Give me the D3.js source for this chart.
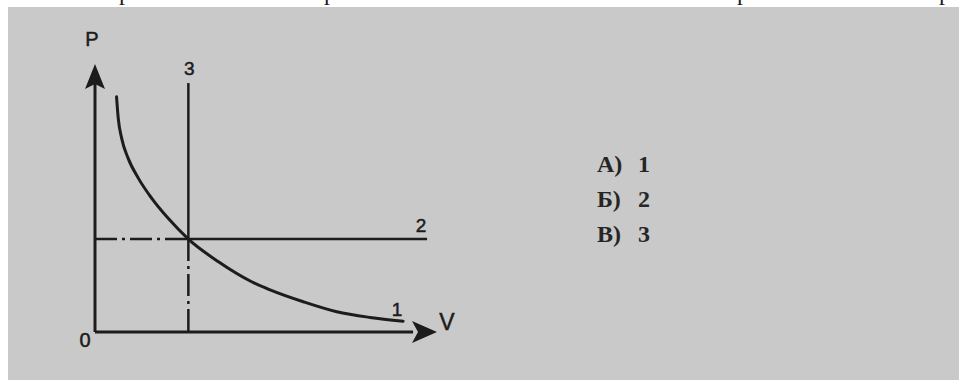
<html>
<head>
    <script src='https://cdnjs.cloudflare.com/ajax/libs/d3/7.8.5/d3.min.js'></script>
    <style>
        body { margin: 0; background: #fff; }
        svg { display: block; }
    </style>
</head>
<body>
</body>

<script>
    // isotherm 1 (V, P in axis units 0..100)
    var isothermV = [6.3, 6.8, 7.8, 9.7, 12.7, 16.6, 21.4, 27.3, 36.1, 45.8, 51.2, 60.9, 70.7, 80.4, 90.1];
    var isothermP = [87.1, 79.1, 71.7, 64.3, 56.9, 49.5, 42.1, 34.4, 26.0, 18.6, 15.6, 11.2, 7.5, 5.4, 4.0];

    // isobar 2 and isochore 3 meet the isotherm here
    var crossV = 27.3;
    var crossP = 34.4;
    var isobarEndV = 97.1;
    var isochoreTopP = 92.2;

    var answerLetters = ['А)', 'Б)', 'В)'];
    var answerValues = ['1', '2', '3'];
    var topFragments = [125, 330, 743, 945];

    var width = 959, height = 380;
    var ink = '#1c1c1c';

    var svg = d3.select('body').append('svg')
                               .attr('width', width).attr('height', height);

    // scanned page: white margin on top and left, grey paper
    svg.append('rect').attr('width', width).attr('height', height).style('fill', '#fff');
    svg.append('rect').attr('x', 8).attr('y', 7)
                      .attr('width', width - 8).attr('height', height - 7)
                      .style('fill', '#c9c9c9');

    // descenders of the line cut off above
    svg.selectAll('text.cut').data(topFragments).enter().append('text')
       .attr('class', 'cut')
       .attr('x', function (d) { return d; })
       .attr('y', 0)
       .attr('text-anchor', 'middle')
       .style('font-family', 'Liberation Serif')
       .style('font-size', '24px')
       .style('fill', ink)
       .text('р');

    var x = d3.scaleLinear().domain([0, 100]).range([95, 437]);
    var y = d3.scaleLinear().domain([0, 100]).range([332, 62]);

    var g = svg.append('g');

    function seg(v1, p1, v2, p2, w, dash) {
        var l = g.append('line')
                 .attr('x1', x(v1)).attr('y1', y(p1))
                 .attr('x2', x(v2)).attr('y2', y(p2))
                 .style('stroke', ink)
                 .style('stroke-width', w);
        if (dash) {
            l.style('stroke-dasharray', dash);
        }
        return l;
    }

    var dashDot = '22,5,3,5';

    // axes
    seg(0, 0, 0, 92, 3);
    seg(0, 0, 93, 0, 3);

    // arrowheads
    var ox = x(0), oy = y(0);
    var ptop = y(100) + 2;
    g.append('path')
     .attr('d', 'M' + ox + ',' + ptop + 'L' + (ox + 10) + ',' + (ptop + 25) +
                'L' + ox + ',' + (ptop + 20) + 'L' + (ox - 10) + ',' + (ptop + 25) + 'Z')
     .style('fill', ink);
    var vtip = x(100);
    g.append('path')
     .attr('d', 'M' + vtip + ',' + oy + 'L' + (vtip - 25) + ',' + (oy - 11) +
                'L' + (vtip - 19) + ',' + oy + 'L' + (vtip - 25) + ',' + (oy + 11) + 'Z')
     .style('fill', ink);

    // guides to the axes
    seg(0, crossP, crossV, crossP, 2.5, dashDot);
    seg(crossV, crossP, crossV, 0, 2.5, dashDot);

    // isobar 2, isochore 3
    seg(crossV, crossP, isobarEndV, crossP, 2.5);
    seg(crossV, crossP, crossV, isochoreTopP, 2.5);

    // isotherm 1
    var pts = isothermV.map(function (v, i) { return [v, isothermP[i]]; });
    var line = d3.line()
                 .x(function (d) { return x(d[0]); })
                 .y(function (d) { return y(d[1]); })
                 .curve(d3.curveMonotoneX);
    g.append('path').datum(pts)
     .attr('d', line)
     .style('fill', 'none')
     .style('stroke', ink)
     .style('stroke-width', 3)
     .style('stroke-linecap', 'round');

    function label(txt, px, py, size) {
        g.append('text')
         .attr('x', px).attr('y', py)
         .attr('text-anchor', 'middle')
         .style('font-family', 'Liberation Sans')
         .style('font-size', size + 'px')
         .style('fill', ink)
         .style('stroke', ink)
         .style('stroke-width', 0.5)
         .text(txt);
    }

    label('P', ox - 3, y(100) - 16, 20);
    label('V', vtip + 10, oy - 2, 23);
    label('0', ox - 10, oy + 15, 20);
    label('3', x(crossV) + 1, y(isochoreTopP) - 8, 19);
    label('2', x(isobarEndV) - 6, y(crossP) - 7, 19);
    label('1', x(90.1) - 6, y(4.0) - 5, 19);

    // answer options
    var opts = svg.selectAll('g.ans').data(answerLetters).enter().append('g')
                  .attr('class', 'ans')
                  .attr('transform', function (d, i) { return 'translate(0,' + (172 + i * 35) + ')'; })
                  .style('font-family', 'Liberation Serif')
                  .style('font-weight', 'bold')
                  .style('font-size', '24px')
                  .style('fill', '#262626');
    opts.append('text').attr('x', 597).text(function (d) { return d; });
    opts.append('text').attr('x', 638).text(function (d, i) { return answerValues[i]; });
</script>
</html>
